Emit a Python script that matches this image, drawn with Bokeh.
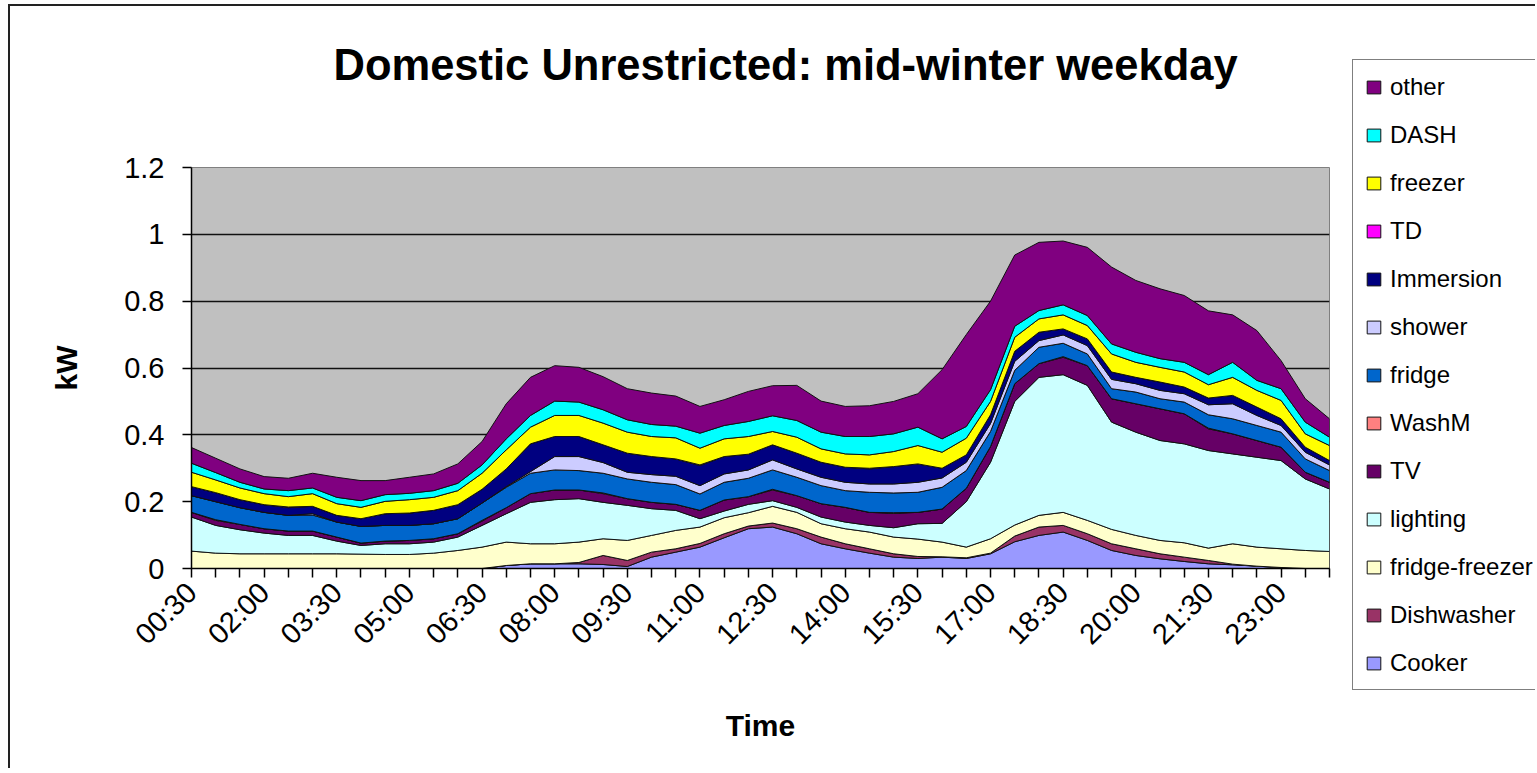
import math
import numpy as np
from bokeh.plotting import figure
from bokeh.layouts import row
from bokeh.models import FixedTicker, Legend, LegendItem, Range1d, Title
from bokeh.embed import file_html
from bokeh.resources import INLINE

times = ["00:30", "01:00", "01:30", "02:00", "02:30", "03:00", "03:30", "04:00",
         "04:30", "05:00", "05:30", "06:00", "06:30", "07:00", "07:30", "08:00",
         "08:30", "09:00", "09:30", "10:00", "10:30", "11:00", "11:30", "12:00",
         "12:30", "13:00", "13:30", "14:00", "14:30", "15:00", "15:30", "16:00",
         "16:30", "17:00", "17:30", "18:00", "18:30", "19:00", "19:30", "20:00",
         "20:30", "21:00", "21:30", "22:00", "22:30", "23:00", "23:30", "24:00"]

cooker = [0, 0, 0, 0, 0, 0, 0, 0, 0, 0, 0, 0, 0, .009, .014, .014,
          .014, .012, .006, .034, .049, .064, .092, .119, .124, .104, .074, .059,
          .046, .034, .030, .034, .030, .044, .080, .099, .109, .084, .054, .039,
          .029, .021, .014, .011, .007, .003, 0, 0]
dishwasher = [0, 0, 0, 0, 0, 0, 0, 0, 0, 0, 0, 0, 0, 0, 0, 0,
              .004, .027, .018, .015, .010, .011, .012, .008, .012, .015, .020, .015,
              .013, .010, .006, .001, .002, .002, .017, .025, .020, .020, .020, .020,
              .015, .013, .010, .002, 0, 0, 0, 0]
fridge_freezer = [.052, .046, .044, .044, .044, .044, .044, .043, .042, .042, .046, .054,
                  .064, .070, .060, .060, .061, .050, .060, .050, .055, .049, .048, .040,
                  .050, .049, .040, .045, .050, .050, .052, .044, .032, .043, .033, .035,
                  .039, .040, .043, .040, .040, .043, .037, .061, .057, .056, .054, .051]
lighting = [.102, .083, .072, .062, .055, .055, .038, .026, .032, .032, .033, .040,
            .065, .085, .124, .132, .130, .109, .105, .080, .060, .025, .020, .025,
            .017, .015, .020, .020, .020, .028, .046, .056, .136, .229, .370, .413,
            .412, .404, .321, .309, .299, .296, .292, .269, .269, .264, .214, .187]
tv = [.014, .015, .016, .013, .013, .013, .012, .007, .008, .010, .010, .010,
      .013, .018, .026, .029, .026, .026, .020, .019, .018, .025, .033, .023,
      .032, .035, .040, .044, .039, .043, .034, .043, .040, .047, .053, .041,
      .052, .059, .070, .085, .095, .090, .065, .060, .050, .040, .020, .020]
washm = [0, .002, 0, 0, 0, 0, 0, 0, 0, 0, 0, 0,
         .002, 0, 0, 0, 0, .002, 0, 0, 0, 0, 0, 0,
         .002, 0, 0, 0, 0, .002, 0, 0, 0, 0, 0, 0,
         .002, 0, 0, 0, 0, 0, .002, 0, 0, 0, 0, 0]
fridge = [.050, .054, .050, .049, .047, .048, .045, .050, .047, .045, .045, .045,
          .052, .061, .061, .060, .058, .059, .059, .060, .059, .049, .053, .055,
          .058, .055, .054, .050, .060, .059, .060, .065, .053, .045, .040, .049,
          .040, .035, .030, .035, .030, .035, .040, .045, .045, .045, .040, .035]
shower = [0, 0, 0, 0, 0, .004, 0, 0, 0, 0, 0, 0,
          0, .002, .005, .040, .042, .032, .020, .023, .025, .025, .025, .025,
          .030, .025, .025, .025, .025, .027, .030, .028, .025, .024, .027, .020,
          .025, .025, .028, .025, .025, .025, .030, .045, .030, .020, .020, .017]
immersion = [.027, .027, .024, .023, .023, .022, .020, .023, .035, .037, .040, .042,
             .041, .053, .083, .060, .060, .053, .057, .054, .052, .060, .052, .047,
             .045, .047, .045, .045, .045, .052, .055, .029, .022, .026, .030, .025,
             .018, .020, .022, .019, .025, .020, .020, .025, .025, .020, .015, .013]
td = [0, 0, 0, 0, .002, 0, 0, 0, 0, 0, 0, 0,
      0, 0, 0, 0, 0, 0, 0, 0, 0, .002, 0, 0,
      0, 0, 0, 0, .002, 0, 0, 0, 0, 0, 0, 0,
      0, 0, 0, 0, 0, 0, 0, 0, 0, 0, 0, 0]
freezer = [.043, .038, .035, .033, .031, .038, .035, .034, .037, .040, .039, .042,
           .048, .057, .050, .063, .063, .065, .063, .060, .063, .050, .053, .053,
           .040, .048, .040, .040, .040, .045, .055, .048, .050, .040, .042, .040,
           .042, .040, .054, .045, .044, .045, .040, .054, .050, .055, .040, .045]
dash = [.027, .022, .017, .014, .018, .017, .019, .020, .020, .019, .020, .022,
        .025, .033, .035, .043, .040, .040, .037, .036, .035, .045, .040, .045,
        .047, .050, .050, .052, .055, .053, .055, .040, .035, .035, .033, .025,
        .030, .030, .030, .030, .026, .029, .030, .045, .030, .035, .035, .025]
other = [.047, .043, .040, .037, .037, .044, .060, .060, .042, .048, .050, .058,
         .070, .105, .114, .106, .104, .099, .093, .094, .090, .080, .077, .090,
         .090, .105, .093, .090, .092, .097, .100, .207, .275, .265, .213, .204,
         .191, .204, .230, .215, .209, .200, .191, .142, .149, .084, .070, .055]

series_names = ["Cooker", "Dishwasher", "fridge-freezer", "lighting", "TV", "WashM",
                "fridge", "shower", "Immersion", "TD", "freezer", "DASH", "other"]
series_values = [cooker, dishwasher, fridge_freezer, lighting, tv, washm,
                 fridge, shower, immersion, td, freezer, dash, other]
colors = ["#9999FF", "#993366", "#FFFFCC", "#CCFFFF", "#660066", "#FF8080",
          "#0066CC", "#CCCCFF", "#000080", "#FF00FF", "#FFFF00", "#00FFFF", "#800080"]

y_ticks = [0, 0.2, 0.4, 0.6, 0.8, 1.0, 1.2]
y_tick_labels = ["0", "0.2", "0.4", "0.6", "0.8", "1", "1.2"]

chart_title = "Domestic Unrestricted: mid-winter weekday"

x = np.arange(len(times))
font = "Liberation Sans"
H = 762

# stacked polygons, built once from the series arrays
polys = []
bottom = np.zeros(len(times))
for vals in series_values:
    top = bottom + np.array(vals)
    polys.append((np.concatenate([x, x[::-1]]), np.concatenate([top, bottom[::-1]])))
    bottom = top

# ---------------- main chart ----------------
p = figure(width=1325, height=H, output_backend="svg", toolbar_location=None,
           x_range=Range1d(0, len(times) - 1), y_range=Range1d(0, 1.2),
           min_border_left=181, min_border_right=6, min_border_top=161,
           min_border_bottom=200)
p.background_fill_color = "#C0C0C0"
p.border_fill_color = "white"
p.outline_line_color = "#808080"
p.outline_line_width = 1

# Title (outermost) plus a blank spacer title between it and the frame
p.title.text = chart_title
p.title.text_font = font
p.title.text_font_size = "43.5px"
p.title.text_font_style = "bold"
p.title.text_color = "black"
p.title.align = "left"
p.title.offset = 142
p.title.vertical_align = "bottom"
p.title.standoff = 61
spacer = Title(text=" ", text_font_size="10px", standoff=35)
p.add_layout(spacer, "above")

# Gridlines
p.xgrid.visible = False
p.ygrid.ticker = FixedTicker(ticks=y_ticks)
p.ygrid.grid_line_color = "#111111"
p.ygrid.grid_line_width = 1.6

# Stacked areas
for (xs, ys), col in zip(polys, colors):
    p.patch(xs, ys, fill_color=col, line_color="#111111", line_width=1)

# Axes
p.xaxis.ticker = FixedTicker(ticks=list(range(len(times))))
p.xaxis.major_label_overrides = {i: (t if i % 3 == 0 else "") for i, t in enumerate(times)}
p.xaxis.major_label_orientation = math.pi / 4
p.xaxis.major_label_text_font = font
p.xaxis.major_label_text_font_size = "29px"
p.xaxis.major_label_text_color = "black"
p.xaxis.major_label_standoff = 10
p.xaxis.major_tick_out = 9
p.xaxis.major_tick_in = 0
p.xaxis.minor_tick_line_color = None
p.xaxis.axis_line_color = "black"
p.xaxis.axis_line_width = 1.5
p.xaxis.major_tick_line_color = "black"
p.xaxis.major_tick_line_width = 1.5
p.xaxis.axis_label = "Time"
p.xaxis.axis_label_text_font = font
p.xaxis.axis_label_text_font_size = "30px"
p.xaxis.axis_label_text_font_style = "bold"
p.xaxis.axis_label_text_color = "black"
p.xaxis.axis_label_standoff = 45

p.yaxis.ticker = FixedTicker(ticks=y_ticks)
p.yaxis.major_label_overrides = dict(zip(y_ticks, y_tick_labels))
p.yaxis.major_label_text_font = font
p.yaxis.major_label_text_font_size = "29px"
p.yaxis.major_label_text_color = "black"
p.yaxis.major_label_standoff = 18
p.yaxis.major_tick_out = 9
p.yaxis.major_tick_in = 0
p.yaxis.minor_tick_line_color = None
p.yaxis.axis_line_color = "black"
p.yaxis.axis_line_width = 1.5
p.yaxis.major_tick_line_color = "black"
p.yaxis.major_tick_line_width = 1.5
p.yaxis.axis_label = "kW"
p.yaxis.axis_label_text_font = font
p.yaxis.axis_label_text_font_size = "30px"
p.yaxis.axis_label_text_font_style = "bold"
p.yaxis.axis_label_text_color = "black"
p.yaxis.axis_label_standoff = 38

# ---------------- legend panel (same series, drawn out of view) ----------------
q = figure(width=200, height=H, output_backend="svg", toolbar_location=None,
           x_range=Range1d(1000, 1001), y_range=Range1d(1000, 1001),
           x_axis_type=None, y_axis_type=None, min_border=0)
q.background_fill_color = "white"
q.border_fill_color = "white"
q.outline_line_color = None
q.grid.visible = False

for fig in (p, q):
    if "frame_align" in fig.properties():
        fig.frame_align = False

items = []
for name, (xs, ys), col in reversed(list(zip(series_names, polys, colors))):
    r = q.patch(xs, ys, fill_color=col, line_color="#111111", line_width=1)
    items.append(LegendItem(label=name, renderers=[r], index=0))
legend = Legend(items=items, location=(17, 78))
legend.border_line_color = "black"
legend.border_line_width = 1.5
legend.background_fill_color = "white"
legend.background_fill_alpha = 1
legend.label_text_font = font
legend.label_text_font_size = "24px"
legend.label_text_color = "black"
legend.glyph_width = 17
legend.glyph_height = 16
legend.label_standoff = 8
legend.label_height = 29
legend.spacing = 19
legend.padding = 12
legend.margin = 0
q.add_layout(legend)

layout = row(p, q)
layout.styles = {"border-left": "2px solid #222", "border-top": "2px solid #222",
                 "margin-left": "8px", "margin-top": "4px"}

open("out.html", "w").write(file_html(layout, INLINE))
